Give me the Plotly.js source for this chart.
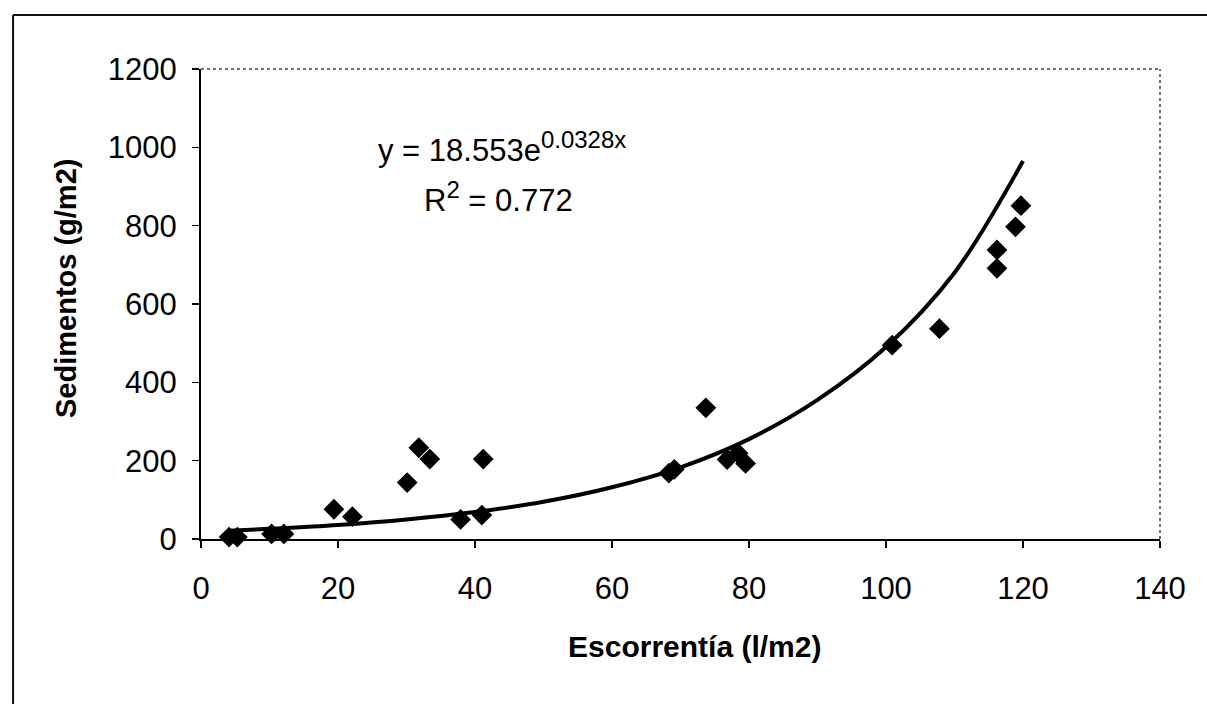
<!DOCTYPE html>
<html>
<head>
<meta charset="utf-8">
<script src="https://cdn.plot.ly/plotly-3.0.1.min.js"></script>
<style>
  html, body { margin: 0; padding: 0; background: #fff; }
  #chart { width: 1207px; height: 704px; }
</style>
</head>
<body>
<div id="chart"></div>
<script>
// Observed points
const escorrentia = [4.1, 5.3, 10.3, 12.1, 19.4, 22.1, 30.1, 31.8, 33.4, 37.9, 41.0, 41.2,
                     68.3, 69.1, 73.7, 76.8, 78.4, 79.5, 100.9, 107.8, 116.2, 116.2, 118.9, 119.7];
const sedimentos  = [5, 5, 13, 13, 76, 57, 144, 233, 204, 50, 61, 204,
                     168, 178, 335, 203, 219, 193, 495, 537, 691, 738, 797, 851];

// Trend line
const trendX = [4, 10, 20, 30, 40, 50, 60, 70, 80, 90, 100, 110, 120];
const trendY = [21, 26, 36, 50, 69, 95, 132, 183, 255, 355, 490, 680, 965];

// Tick values
const xTicks = [0, 20, 40, 60, 80, 100, 120, 140];
const yTicks = [0, 200, 400, 600, 800, 1000, 1200];

// Labels
const equationLine1 = 'y = 18.553e<sup><span style="font-size:24px">0.0328x</span></sup>';
const equationLine2 = 'R<sup><span style="font-size:24px">2</span></sup> = 0.772';
const xTitle = 'Escorrentía (l/m2)';
const yTitle = 'Sedimentos (g/m2)';

const FONT = 'Liberation Sans, Arial, sans-serif';

const traces = [
  {
    x: trendX, y: trendY, type: 'scatter', mode: 'lines',
    line: { color: '#000', width: 4, shape: 'spline', smoothing: 1 },
    hoverinfo: 'skip', showlegend: false
  },
  {
    x: escorrentia, y: sedimentos, type: 'scatter', mode: 'markers',
    marker: { symbol: 'diamond', size: 16, color: '#000' },
    cliponaxis: false, showlegend: false
  }
];

const layout = {
  width: 1207, height: 704,
  margin: { l: 201, r: 47, t: 69, b: 165 },
  paper_bgcolor: '#fff', plot_bgcolor: '#fff',
  showlegend: false,
  font: { family: FONT, color: '#000' },
  xaxis: {
    range: [0, 140], tickvals: xTicks, ticktext: xTicks.map(String),
    showgrid: false, zeroline: false,
    showline: true, linecolor: '#000', linewidth: 2,
    ticks: 'outside', ticklen: 7, tickwidth: 1.5, tickcolor: '#000',
    ticklabelstandoff: 14,
    tickfont: { family: FONT, size: 31, color: '#000' }
  },
  yaxis: {
    range: [0, 1200], tickvals: yTicks, ticktext: yTicks.map(String),
    showgrid: false, zeroline: false,
    showline: true, linecolor: '#000', linewidth: 2,
    ticks: 'outside', ticklen: 7, tickwidth: 1.5, tickcolor: '#000',
    ticklabelstandoff: 9,
    tickfont: { family: FONT, size: 31, color: '#000' }
  },
  shapes: [
    // dotted plot-area border (top, right)
    { type: 'line', xref: 'paper', yref: 'paper', x0: 0, x1: 1, y0: 1, y1: 1,
      line: { color: '#444', width: 1.5, dash: 'dot' } },
    { type: 'line', xref: 'paper', yref: 'paper', x0: 1, x1: 1, y0: 0, y1: 1,
      line: { color: '#444', width: 1.5, dash: 'dot' } },
    // outer chart frame (left and top edges visible)
    { type: 'line', xref: 'paper', yref: 'paper', x0: -0.196, x1: -0.196, y0: -0.4, y1: 1.115,
      line: { color: '#111', width: 2 } },
    { type: 'line', xref: 'paper', yref: 'paper', x0: -0.196, x1: 1.1, y0: 1.115, y1: 1.115,
      line: { color: '#111', width: 2 } }
  ],
  annotations: [
    { text: equationLine1, xref: 'paper', yref: 'paper', x: 0.3139, y: 0.835,
      xanchor: 'center', yanchor: 'middle', align: 'center', showarrow: false,
      font: { family: FONT, size: 31, color: '#000' } },
    { text: equationLine2, xref: 'paper', yref: 'paper', x: 0.3107, y: 0.727,
      xanchor: 'center', yanchor: 'middle', align: 'center', showarrow: false,
      font: { family: FONT, size: 31, color: '#000' } },
    { text: '<b>' + xTitle + '</b>', xref: 'paper', yref: 'paper', x: 0.515, y: -0.229,
      xanchor: 'center', yanchor: 'middle', showarrow: false,
      font: { family: FONT, size: 30, color: '#000' } },
    { text: '<b>' + yTitle + '</b>', xref: 'paper', yref: 'paper', x: -0.1408, y: 0.534,
      xanchor: 'center', yanchor: 'middle', showarrow: false, textangle: -90,
      font: { family: FONT, size: 29, color: '#000' } }
  ]
};

Plotly.newPlot('chart', traces, layout, { displayModeBar: false, staticPlot: true });
</script>
</body>
</html>
